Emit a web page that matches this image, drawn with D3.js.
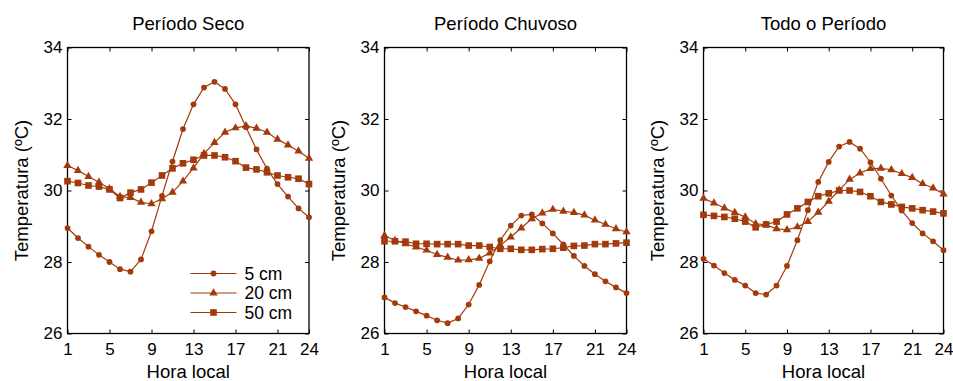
<!DOCTYPE html>
<html>
<head>
<meta charset="utf-8">
<script src="https://cdn.jsdelivr.net/npm/d3@7"></script>
<style>
  body { margin: 0; background: #fff; }
  svg text { font-family: "Liberation Sans", Arial, sans-serif; fill: #000; }
</style>
</head>
<body>
<svg id="chart" width="953" height="381"></svg>
<script>
// hours and tick labels
const hours = d3.range(1, 25);
const xTicks = [1, 5, 9, 13, 17, 21, 24];
const yTicks = [26, 28, 30, 32, 34];
const depths = ["5 cm", "20 cm", "50 cm"];
const titles = ["Período Seco", "Período Chuvoso", "Todo o Período"];

// Período Seco
const seco5 = [28.95, 28.67, 28.43, 28.2, 28.0, 27.8, 27.73, 28.07, 28.86, 29.85, 30.81, 31.72,
  32.41, 32.88, 33.04, 32.84, 32.41, 31.77, 31.15, 30.61, 30.18, 29.83, 29.5, 29.25];
const seco20 = [30.7, 30.56, 30.39, 30.23, 30.05, 29.83, 29.8, 29.67, 29.63, 29.77, 29.95, 30.26,
  30.63, 31.03, 31.34, 31.63, 31.75, 31.81, 31.74, 31.63, 31.43, 31.27, 31.1, 30.9];
const seco50 = [30.26, 30.21, 30.14, 30.11, 30.03, 29.79, 29.94, 30.03, 30.22, 30.42, 30.62, 30.76,
  30.86, 30.98, 30.98, 30.93, 30.82, 30.64, 30.59, 30.51, 30.42, 30.37, 30.33, 30.18];

// Período Chuvoso
const chuva5 = [27.01, 26.85, 26.74, 26.62, 26.5, 26.37, 26.29, 26.42, 26.81, 27.36, 28.02, 28.61,
  29.02, 29.3, 29.33, 29.08, 28.8, 28.49, 28.17, 27.89, 27.66, 27.46, 27.29, 27.13];
const chuva20 = [28.74, 28.6, 28.51, 28.42, 28.33, 28.21, 28.13, 28.05, 28.06, 28.1, 28.25, 28.46,
  28.7, 28.95, 29.21, 29.37, 29.47, 29.42, 29.38, 29.31, 29.17, 29.05, 28.93, 28.84];
const chuva50 = [28.58, 28.58, 28.57, 28.51, 28.51, 28.5, 28.5, 28.5, 28.46, 28.46, 28.42, 28.37,
  28.37, 28.34, 28.34, 28.36, 28.37, 28.4, 28.45, 28.46, 28.5, 28.5, 28.52, 28.54];

// Todo o Período
const todo5 = [28.09, 27.9, 27.69, 27.5, 27.34, 27.13, 27.09, 27.34, 27.89, 28.61, 29.45, 30.24,
  30.8, 31.23, 31.36, 31.17, 30.79, 30.33, 29.86, 29.44, 29.09, 28.8, 28.58, 28.33];
const todo20 = [29.78, 29.65, 29.51, 29.38, 29.26, 29.07, 29.04, 28.93, 28.9, 28.98, 29.13, 29.39,
  29.7, 30.01, 30.31, 30.49, 30.61, 30.62, 30.58, 30.47, 30.36, 30.19, 30.07, 29.9];
const todo50 = [29.32, 29.29, 29.26, 29.21, 29.13, 28.97, 29.05, 29.13, 29.33, 29.5, 29.68, 29.84,
  29.92, 30.0, 30.0, 29.96, 29.84, 29.68, 29.61, 29.54, 29.5, 29.45, 29.41, 29.36];

const panels = [
  [seco5, seco20, seco50],
  [chuva5, chuva20, chuva50],
  [todo5, todo20, todo50]
];

const colour = "#a33a0b";
const panelLeft = [67.5, 384.5, 703.5];
const panelW = [241.5, 242, 240];
const plotTop = 47, ph = 286;
const tickLen = 4;

const svg = d3.select("#chart");

const symbols = [
  d3.symbol().type(d3.symbolCircle).size(26),
  d3.symbol().type(d3.symbolTriangle).size(30),
  d3.symbol().type(d3.symbolSquare).size(44)
];

panels.forEach((series, p) => {
  const pw = panelW[p];
  const x = d3.scaleLinear().domain([1, 24]).range([0, pw]);
  const y = d3.scaleLinear().domain([26, 34]).range([ph, 0]);
  const g = svg.append("g").attr("transform", `translate(${panelLeft[p]},${plotTop + 0.5})`);

  // inner ticks on all four sides
  const axes = [
    [d3.axisBottom(x).tickValues(xTicks), `translate(0,${ph})`, 9],
    [d3.axisTop(x).tickValues(xTicks).tickFormat(""), "translate(0,0)", 5],
    [d3.axisLeft(y).tickValues(yTicks), "translate(0,0)", 5],
    [d3.axisRight(y).tickValues(yTicks).tickFormat(""), `translate(${pw},0)`, 5]
  ];
  axes.forEach(([ax, tr, pad]) => {
    const a = g.append("g").attr("transform", tr)
      .call(ax.tickSizeInner(-tickLen).tickSizeOuter(0).tickPadding(pad));
    a.select(".domain").remove();
    a.selectAll("line").attr("stroke", "#000");
    a.selectAll("text").attr("font-size", 17).attr("fill", "#000").attr("font-family", null);
  });

  g.append("rect").attr("width", pw).attr("height", ph)
    .attr("fill", "none").attr("stroke", "#000").attr("stroke-width", 1.3);

  const line = d3.line().x((d, i) => x(hours[i])).y(d => y(d));
  series.forEach((vals, s) => {
    g.append("path").datum(vals).attr("d", line)
      .attr("fill", "none").attr("stroke", colour).attr("stroke-width", 1.2);
    g.selectAll(null).data(vals).join("path")
      .attr("transform", (d, i) => `translate(${x(hours[i])},${y(d)})`)
      .attr("d", symbols[s]).attr("fill", colour);
  });

  // titles
  g.append("text").attr("x", pw / 2).attr("y", -18).attr("text-anchor", "middle")
    .attr("font-size", 18.5).text(titles[p]);
  g.append("text").attr("x", pw / 2).attr("y", ph + 44).attr("text-anchor", "middle")
    .attr("font-size", 18.5).text("Hora local");
  g.append("text").attr("transform", `translate(-40,${ph / 2}) rotate(-90)`)
    .attr("text-anchor", "middle").attr("font-size", 18.5).text("Temperatura (ºC)");

  // legend in the first panel
  if (p === 0) {
    const lg = g.append("g").attr("transform", "translate(123,226)");
    depths.forEach((name, s) => {
      const row = lg.append("g").attr("transform", `translate(0,${s * 19.5})`);
      row.append("line").attr("x1", 0).attr("x2", 46)
        .attr("stroke", colour).attr("stroke-width", 1.2);
      row.append("path").attr("transform", "translate(23,0)").attr("d", symbols[s]).attr("fill", colour);
      row.append("text").attr("x", 54).attr("y", 6).attr("font-size", 17.5).text(name);
    });
  }
});
</script>
</body>
</html>
